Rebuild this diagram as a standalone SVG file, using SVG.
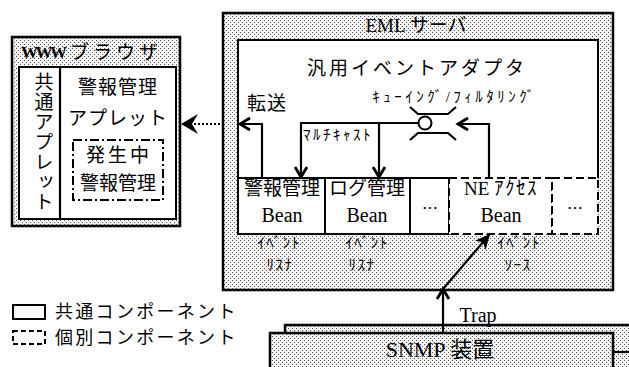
<svg xmlns="http://www.w3.org/2000/svg" width="629" height="367" viewBox="0 0 629 367">
<defs>
<pattern id="dots" width="4" height="4" patternUnits="userSpaceOnUse">
<rect width="4" height="4" fill="#f4f4f4"/>
<rect x="0" y="0" width="1" height="1" fill="#555"/>
<rect x="2" y="2" width="1" height="1" fill="#555"/>
</pattern>
<marker id="open" markerUnits="userSpaceOnUse" markerWidth="16" markerHeight="16" viewBox="-2 -2 16 16" refX="11" refY="6" orient="auto">
<path d="M1,0 L11,6 L1,12" fill="none" stroke="#000" stroke-width="2.8"/>
</marker>
<marker id="fill" markerUnits="userSpaceOnUse" markerWidth="16" markerHeight="14" viewBox="0 0 16 14" refX="15" refY="7" orient="auto">
<path d="M0,0 L15,7 L0,14 L4,7 z" fill="#000"/>
</marker>
<marker id="bigfill" markerUnits="userSpaceOnUse" markerWidth="18" markerHeight="20" viewBox="0 0 18 20" refX="17" refY="10" orient="auto">
<path d="M0,0 L17,10 L0,20 L6,10 z" fill="#000"/>
</marker>
</defs>
<style>
text{font-family:"Liberation Serif","Noto Sans CJK JP",serif;fill:#000;dominant-baseline:central;text-anchor:middle;font-size:19px}
.st{fill:url(#dots);stroke:#000;stroke-width:2.5}
.wb{fill:#fff;stroke:#000;stroke-width:2}
.dash{fill:#fff;stroke:#000;stroke-width:2;stroke-dasharray:8 4}
.ln{fill:none;stroke:#000;stroke-width:2.2}
.sm{font-size:15px;letter-spacing:1.5px}
.cjk{font-family:"Noto Sans CJK JP",sans-serif}
</style>
<rect width="629" height="367" fill="#fff"/>

<g id="browser">
<rect class="st" x="12" y="37" width="168" height="189"/>
<text x="21" y="52" style="text-anchor:start"><tspan font-weight="bold" font-size="17" letter-spacing="-2.5">WWW</tspan><tspan x="70" letter-spacing="4">ブラウザ</tspan></text>
<rect class="wb" x="19" y="67" width="157" height="152"/>
<line class="ln" x1="60" y1="67" x2="60" y2="219"/>
<text x="42" y="72" style="writing-mode:vertical-rl;text-anchor:start;letter-spacing:1px">共通アプレット</text>
<text x="118" y="87" style="letter-spacing:1px">警報管理</text>
<text x="118" y="118" style="letter-spacing:1px">アプレット</text>
<rect x="73" y="140" width="90" height="60" fill="#fff" stroke="#000" stroke-width="2" stroke-dasharray="9 3 2 3"/>
<text x="119" y="155" style="letter-spacing:3px">発生中</text>
<text x="118" y="183">警報管理</text>
</g>

<g id="eml-server">
<rect class="st" x="223" y="13" width="390" height="277"/>
<text x="416" y="25">EML サーバ</text>
</g>

<g id="adapter">
<path d="M238,178 V40 H598 V178" fill="#fff" stroke="#000" stroke-width="2"/>
<text x="417" y="68" style="letter-spacing:3px">汎用イベントアダプタ</text>
<text x="267" y="103" style="letter-spacing:1px">転送</text>
<text x="455" y="97" style="font-size:15px;letter-spacing:3.5px">ｷｭｰｲﾝｸﾞ/ﾌｨﾙﾀﾘﾝｸﾞ</text>
<text x="338" y="135" class="sm" style="letter-spacing:2.5px">ﾏﾙﾁｷｬｽﾄ</text>
</g>

<g id="queue">
<polyline class="ln" points="410,107 418,114 448,114 456,107"/>
<polyline class="ln" points="410,140 418,133 448,133 456,140"/>
<circle cx="425" cy="123" r="6.5" fill="#fff" stroke="#000" stroke-width="2"/>
</g>

<g id="bean-alarm">
<rect class="wb" x="238" y="178" width="87" height="56"/>
<text x="282" y="188">警報管理</text>
<text x="282" y="215" style="font-size:20px">Bean</text>
<text x="279" y="243" class="sm">ｲﾍﾞﾝﾄ</text>
<text x="280" y="265" class="sm">ﾘｽﾅ</text>
</g>
<g id="bean-log">
<rect class="wb" x="325" y="178" width="85" height="56"/>
<text x="367" y="188">ログ管理</text>
<text x="367" y="215" style="font-size:20px">Bean</text>
<text x="367" y="243" class="sm">ｲﾍﾞﾝﾄ</text>
<text x="362" y="265" class="sm">ﾘｽﾅ</text>
</g>
<g id="bean-etc1">
<rect class="wb" x="410" y="178" width="39" height="56"/>
<text x="430" y="207" class="cjk" style="font-size:16px">…</text>
</g>
<g id="bean-ne">
<rect class="dash" x="449" y="178" width="103" height="56"/>
<text x="501" y="188">NE <tspan style="letter-spacing:1.5px">ｱｸｾｽ</tspan></text>
<text x="501" y="215" style="font-size:20px">Bean</text>
<text x="519" y="243" class="sm">ｲﾍﾞﾝﾄ</text>
<text x="518" y="265" class="sm">ｿｰｽ</text>
</g>
<g id="bean-etc2">
<rect class="dash" x="552" y="178" width="46" height="56"/>
<text x="575" y="207" class="cjk" style="font-size:16px">…</text>
</g>

<g id="snmp">
<rect class="st" x="285" y="325" width="360" height="60" stroke-width="2"/>
<rect class="st" x="270" y="333" width="343" height="50" stroke-width="2"/>
<text x="440" y="349" style="font-size:22px">SNMP 装置</text>
<line class="ln" x1="613" y1="352" x2="629" y2="352"/>
</g>

<g id="legend">
<rect x="13" y="305" width="32" height="14" fill="#fff" stroke="#000" stroke-width="2"/>
<text x="55" y="312" style="text-anchor:start;font-size:18px;letter-spacing:2.3px">共通コンポーネント</text>
<rect x="13" y="331" width="32" height="13" fill="#fff" stroke="#000" stroke-width="2" stroke-dasharray="5 3"/>
<text x="55" y="338" style="text-anchor:start;font-size:18px;letter-spacing:2.3px">個別コンポーネント</text>
</g>

<g id="connectors">
<polyline class="ln" points="262,178 262,124 240,124" marker-end="url(#open)"/>
<line x1="224" y1="124" x2="181" y2="124" stroke="#000" stroke-width="2.2" stroke-dasharray="2 2" marker-end="url(#bigfill)"/>
<polyline class="ln" points="418.5,123 301,123 301,177" marker-end="url(#open)"/>
<polyline class="ln" points="379,123 379,177" marker-end="url(#open)"/>
<polyline class="ln" points="489,178 489,124 458,124" marker-end="url(#open)"/>
<line class="ln" x1="443" y1="334" x2="443" y2="289" marker-end="url(#open)"/>
<line class="ln" x1="443" y1="289" x2="490" y2="234" stroke-width="2.5" marker-end="url(#fill)"/>
<text x="478" y="315" style="font-size:20px">Trap</text>
</g>
</svg>
